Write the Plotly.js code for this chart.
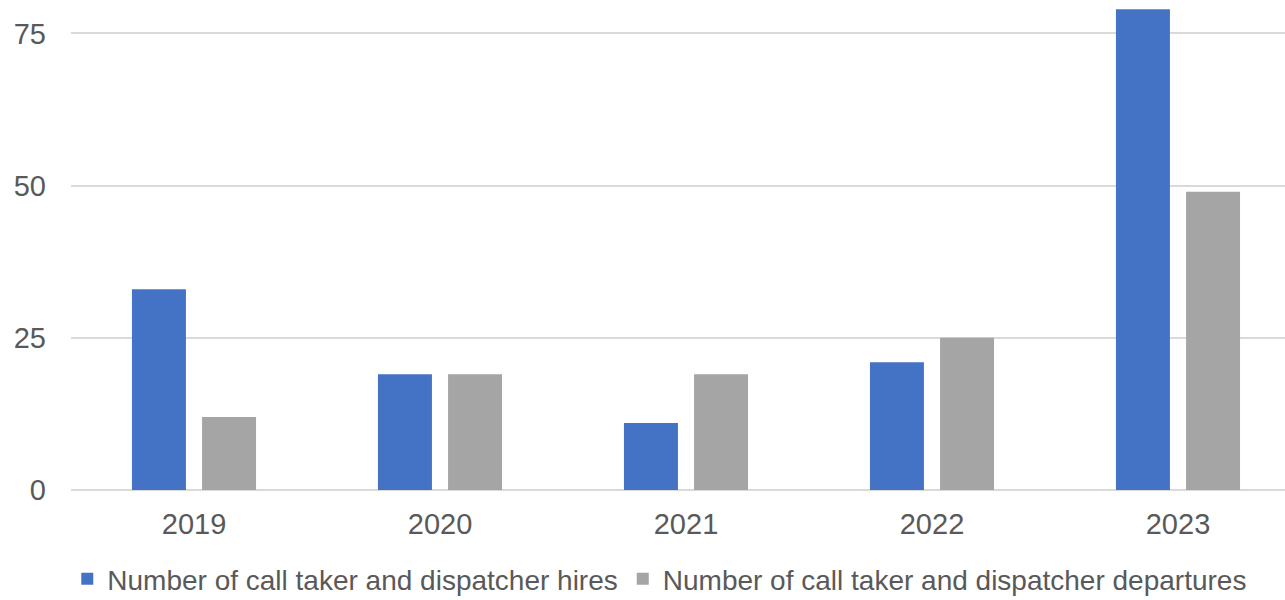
<!DOCTYPE html>
<html>
<head>
<meta charset="utf-8">
<script src="https://cdn.plot.ly/plotly-3.0.1.min.js"></script>
<style>html,body{margin:0;padding:0;background:#fff;}#chart{width:1285px;height:600px;}</style>
</head>
<body>
<div id="chart"></div>
<script>
const years = ["2019", "2020", "2021", "2022", "2023"];
const hires = [33, 19, 11, 21, 79];
const departures = [12, 19, 19, 25, 49];
const seriesNames = ["Number of call taker and dispatcher hires", "Number of call taker and dispatcher departures"];
const yTicks = [0, 25, 50, 75];

const tickFont = {family: "Liberation Sans, Arial, sans-serif", size: 29, color: "#595959"};
const legendFont = {family: "Liberation Sans, Arial, sans-serif", size: 28, color: "#595959"};

const data = [
  {type: "bar", x: years, y: hires, name: seriesNames[0], marker: {color: "#4472C4"}},
  {type: "bar", x: years, y: departures, name: seriesNames[1], marker: {color: "#A5A5A5"}}
];

const layout = {
  width: 1285, height: 600,
  margin: {l: 71, r: 0, t: 0, b: 110, autoexpand: false},
  paper_bgcolor: "#fff", plot_bgcolor: "#fff",
  font: tickFont,
  barmode: "group",
  bargap: 0.43,
  bargroupgap: 0.23,
  showlegend: true,
  legend: {orientation: "h", x: 0.485, xanchor: "center", yref: "container", y: 0.035, yanchor: "middle", font: legendFont, itemwidth: 30, traceorder: "normal", borderwidth: 0, bgcolor: "rgba(0,0,0,0)"},
  xaxis: {type: "category", range: [-0.5, 4.435], automargin: false, showgrid: false, zeroline: false, showline: false, ticks: "", tickfont: tickFont, ticklabelstandoff: 14, fixedrange: true},
  yaxis: {range: [0, 80.5], automargin: false, tickvals: yTicks, ticktext: yTicks.map(String), showgrid: true, gridcolor: "#D9D9D9", gridwidth: 2, zeroline: true, zerolinecolor: "#D9D9D9", zerolinewidth: 2, showline: false, ticks: "", tickfont: tickFont, ticklabelstandoff: 24, fixedrange: true}
};

Plotly.newPlot("chart", data, layout, {displayModeBar: false, staticPlot: true});
</script>
</body>
</html>
